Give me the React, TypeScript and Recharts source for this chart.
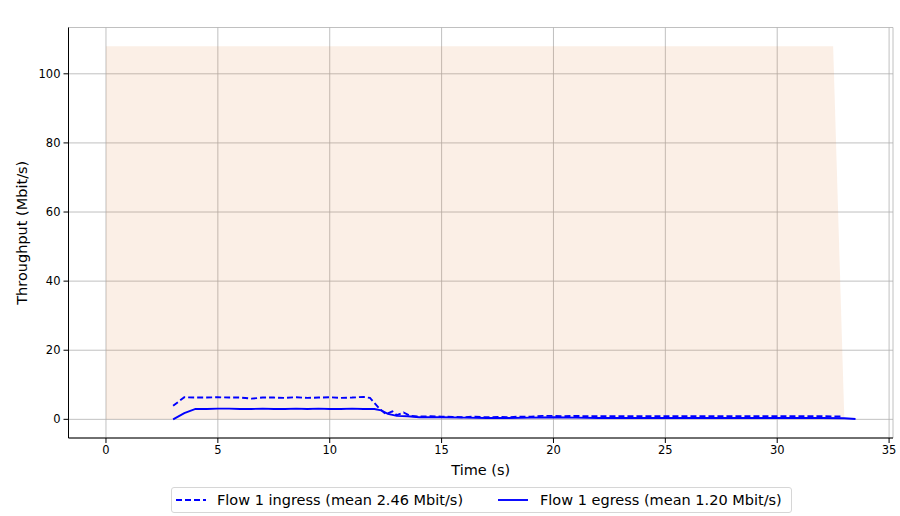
import React from 'react';
import {
  ComposedChart,
  Line,
  Area,
  XAxis,
  YAxis,
  CartesianGrid,
  Legend,
} from 'recharts';

const titleText = 'Average capacity 108.00 Mbit/s (shaded region)';
const xLabel = 'Time (s)';
const yLabel = 'Throughput (Mbit/s)';
const ingressName = 'Flow 1 ingress (mean 2.46 Mbit/s)';
const egressName = 'Flow 1 egress (mean 1.20 Mbit/s)';

const xTicks = [0, 5, 10, 15, 20, 25, 30, 35];
const yTicks = [0, 20, 40, 60, 80, 100];

const capacityTime = [0, 32.5, 33.0];
const capacityValue = [108, 108, 0];

const ingressTime = [
  3.0, 3.5, 4.0, 4.5, 5.0, 5.5, 6.0, 6.5, 7.0, 7.5, 8.0, 8.5, 9.0, 9.5, 10.0, 10.5, 11.0, 11.5, 11.8,
  12.2, 12.5, 12.8, 13.0, 13.3, 13.6, 14.0, 14.5, 15.0, 15.5, 16.0, 16.5, 17.0, 17.5, 18.0, 18.5, 19.0,
  19.5, 20.0, 20.5, 21.0, 21.5, 22.0, 23.0, 24.0, 25.0, 26.0, 27.0, 28.0, 29.0, 30.0, 31.0, 32.0, 32.9,
];
const ingressValue = [
  3.9, 6.4, 6.3, 6.3, 6.4, 6.3, 6.3, 6.0, 6.3, 6.3, 6.2, 6.4, 6.2, 6.3, 6.4, 6.2, 6.3, 6.5, 6.2,
  3.3, 1.5, 2.3, 1.2, 2.0, 1.0, 0.8, 0.9, 0.8, 0.7, 0.6, 0.8, 0.6, 0.7, 0.6, 0.8, 0.8,
  1.0, 1.0, 0.9, 1.0, 0.9, 0.9, 0.9, 0.9, 0.9, 0.9, 0.9, 0.9, 0.9, 0.9, 0.9, 0.9, 0.8,
];

const egressTime = [
  3.0, 3.5, 4.0, 4.5, 5.0, 5.5, 6.0, 6.5, 7.0, 7.5, 8.0, 8.5, 9.0, 9.5, 10.0, 10.5, 11.0, 11.5, 12.0,
  12.3, 12.6, 13.0, 13.5, 14.0, 15.0, 16.0, 17.0, 18.0, 19.0, 20.0, 21.0, 22.0, 23.0, 24.0, 25.0, 26.0,
  27.0, 28.0, 29.0, 30.0, 31.0, 32.0, 33.0, 33.5,
];
const egressValue = [
  0.0, 1.8, 3.0, 3.0, 3.1, 3.1, 3.0, 3.0, 3.1, 3.0, 3.0, 3.1, 3.0, 3.1, 3.0, 3.0, 3.1, 3.0, 3.0,
  2.6, 1.6, 1.0, 0.9, 0.6, 0.6, 0.5, 0.4, 0.4, 0.5, 0.6, 0.5, 0.4, 0.4, 0.4, 0.4, 0.4,
  0.4, 0.4, 0.4, 0.4, 0.4, 0.4, 0.3, 0.1,
];

const capacityData = capacityTime.map((t, i) => ({ t, v: capacityValue[i] }));
const ingressData = ingressTime.map((t, i) => ({ t, v: ingressValue[i] }));
const egressData = egressTime.map((t, i) => ({ t, v: egressValue[i] }));

const FONT = '"DejaVu Sans", sans-serif';
const X_DOMAIN: [number, number] = [-1.675, 35.175];
const Y_DOMAIN: [number, number] = [-5.4, 113.4];
const LINE_W = 1.9;
const DASH = '6 3';

const LegendBox = () => (
  <div
    style={{
      position: 'relative',
      width: 621,
      height: 26,
      border: '1px solid #d6d6d6',
      borderRadius: 3,
      boxSizing: 'border-box',
      fontFamily: FONT,
      fontSize: 14.5,
      color: '#000',
      background: '#fff',
    }}
  >
    <svg style={{ position: 'absolute', left: 3, top: 0 }} width={32} height={24}>
      <line x1={1} y1={12} x2={31} y2={12} stroke="#0000ff" strokeWidth={LINE_W} strokeDasharray={DASH} />
    </svg>
    <span style={{ position: 'absolute', left: 45, top: 0, lineHeight: '24px', whiteSpace: 'nowrap' }}>
      {ingressName}
    </span>
    <svg style={{ position: 'absolute', left: 325, top: 0 }} width={32} height={24}>
      <line x1={1} y1={12} x2={31} y2={12} stroke="#0000ff" strokeWidth={LINE_W} />
    </svg>
    <span style={{ position: 'absolute', left: 368, top: 0, lineHeight: '24px', whiteSpace: 'nowrap' }}>
      {egressName}
    </span>
  </div>
);

export default function App() {
  return (
    <div style={{ position: 'absolute', left: 0, top: 0, width: 900, height: 516, background: '#fff' }}>
      <ComposedChart
        width={900}
        height={516}
        margin={{ top: 27.5, right: 7, bottom: 0, left: 0 }}
        style={{ fontFamily: FONT }}
      >
        <CartesianGrid xAxisId="bottom" yAxisId="left" stroke="#b0b0b0" strokeWidth={0.8} />
        <XAxis
          xAxisId="bottom"
          dataKey="t"
          type="number"
          domain={X_DOMAIN}
          ticks={xTicks}
          allowDataOverflow
          height={78}
          tickSize={5}
          tickMargin={3}
          stroke="#000"
          tick={{ fill: '#000', fontSize: 11.5, fontFamily: FONT }}
          label={{
            content: () => (
              <text x={480.75} y={470} textAnchor="middle" dominantBaseline="central" fontSize={14.5} fontFamily={FONT} fill="#000">
                {xLabel}
              </text>
            ),
          }}
        />
        <XAxis
          xAxisId="top"
          orientation="top"
          type="number"
          domain={X_DOMAIN}
          allowDataOverflow
          height={0}
          tick={false}
          tickLine={false}
          stroke="#000"
          label={{
            content: () => (
              <text x={480.75} y={15} textAnchor="middle" dominantBaseline="central" fontSize={14} fontFamily={FONT} fill="#000">
                {titleText}
              </text>
            ),
          }}
        />
        <YAxis
          yAxisId="left"
          type="number"
          domain={Y_DOMAIN}
          ticks={yTicks}
          allowDataOverflow
          width={68.5}
          tickSize={5}
          tickMargin={3}
          stroke="#000"
          tick={{ fill: '#000', fontSize: 11.5, fontFamily: FONT }}
          label={{
            content: () => (
              <text
                x={22}
                y={232.75}
                transform="rotate(-90 22 232.75)"
                textAnchor="middle"
                dominantBaseline="central"
                fontSize={14.5}
                fontFamily={FONT}
                fill="#000"
              >
                {yLabel}
              </text>
            ),
          }}
        />
        <YAxis
          yAxisId="right"
          orientation="right"
          type="number"
          domain={Y_DOMAIN}
          allowDataOverflow
          width={0}
          tick={false}
          tickLine={false}
          stroke="#000"
        />
        <Area
          xAxisId="bottom"
          yAxisId="left"
          data={capacityData}
          dataKey="v"
          type="linear"
          stroke="none"
          fill="#e07a2e"
          fillOpacity={0.12}
          isAnimationActive={false}
          legendType="none"
          baseValue={0}
        />
        <Line
          xAxisId="bottom"
          yAxisId="left"
          data={ingressData}
          dataKey="v"
          type="linear"
          stroke="#0000ff"
          strokeWidth={LINE_W}
          strokeDasharray={DASH}
          dot={false}
          activeDot={false}
          isAnimationActive={false}
          name={ingressName}
        />
        <Line
          xAxisId="bottom"
          yAxisId="left"
          data={egressData}
          dataKey="v"
          type="linear"
          stroke="#0000ff"
          strokeWidth={LINE_W}
          dot={false}
          activeDot={false}
          isAnimationActive={false}
          name={egressName}
        />
        <Legend
          layout="horizontal"
          verticalAlign="middle"
          align="center"
          content={() => <LegendBox />}
          wrapperStyle={{ position: 'absolute', top: 487, left: 171, width: 621, height: 26, margin: 0 }}
        />
      </ComposedChart>
    </div>
  );
}
